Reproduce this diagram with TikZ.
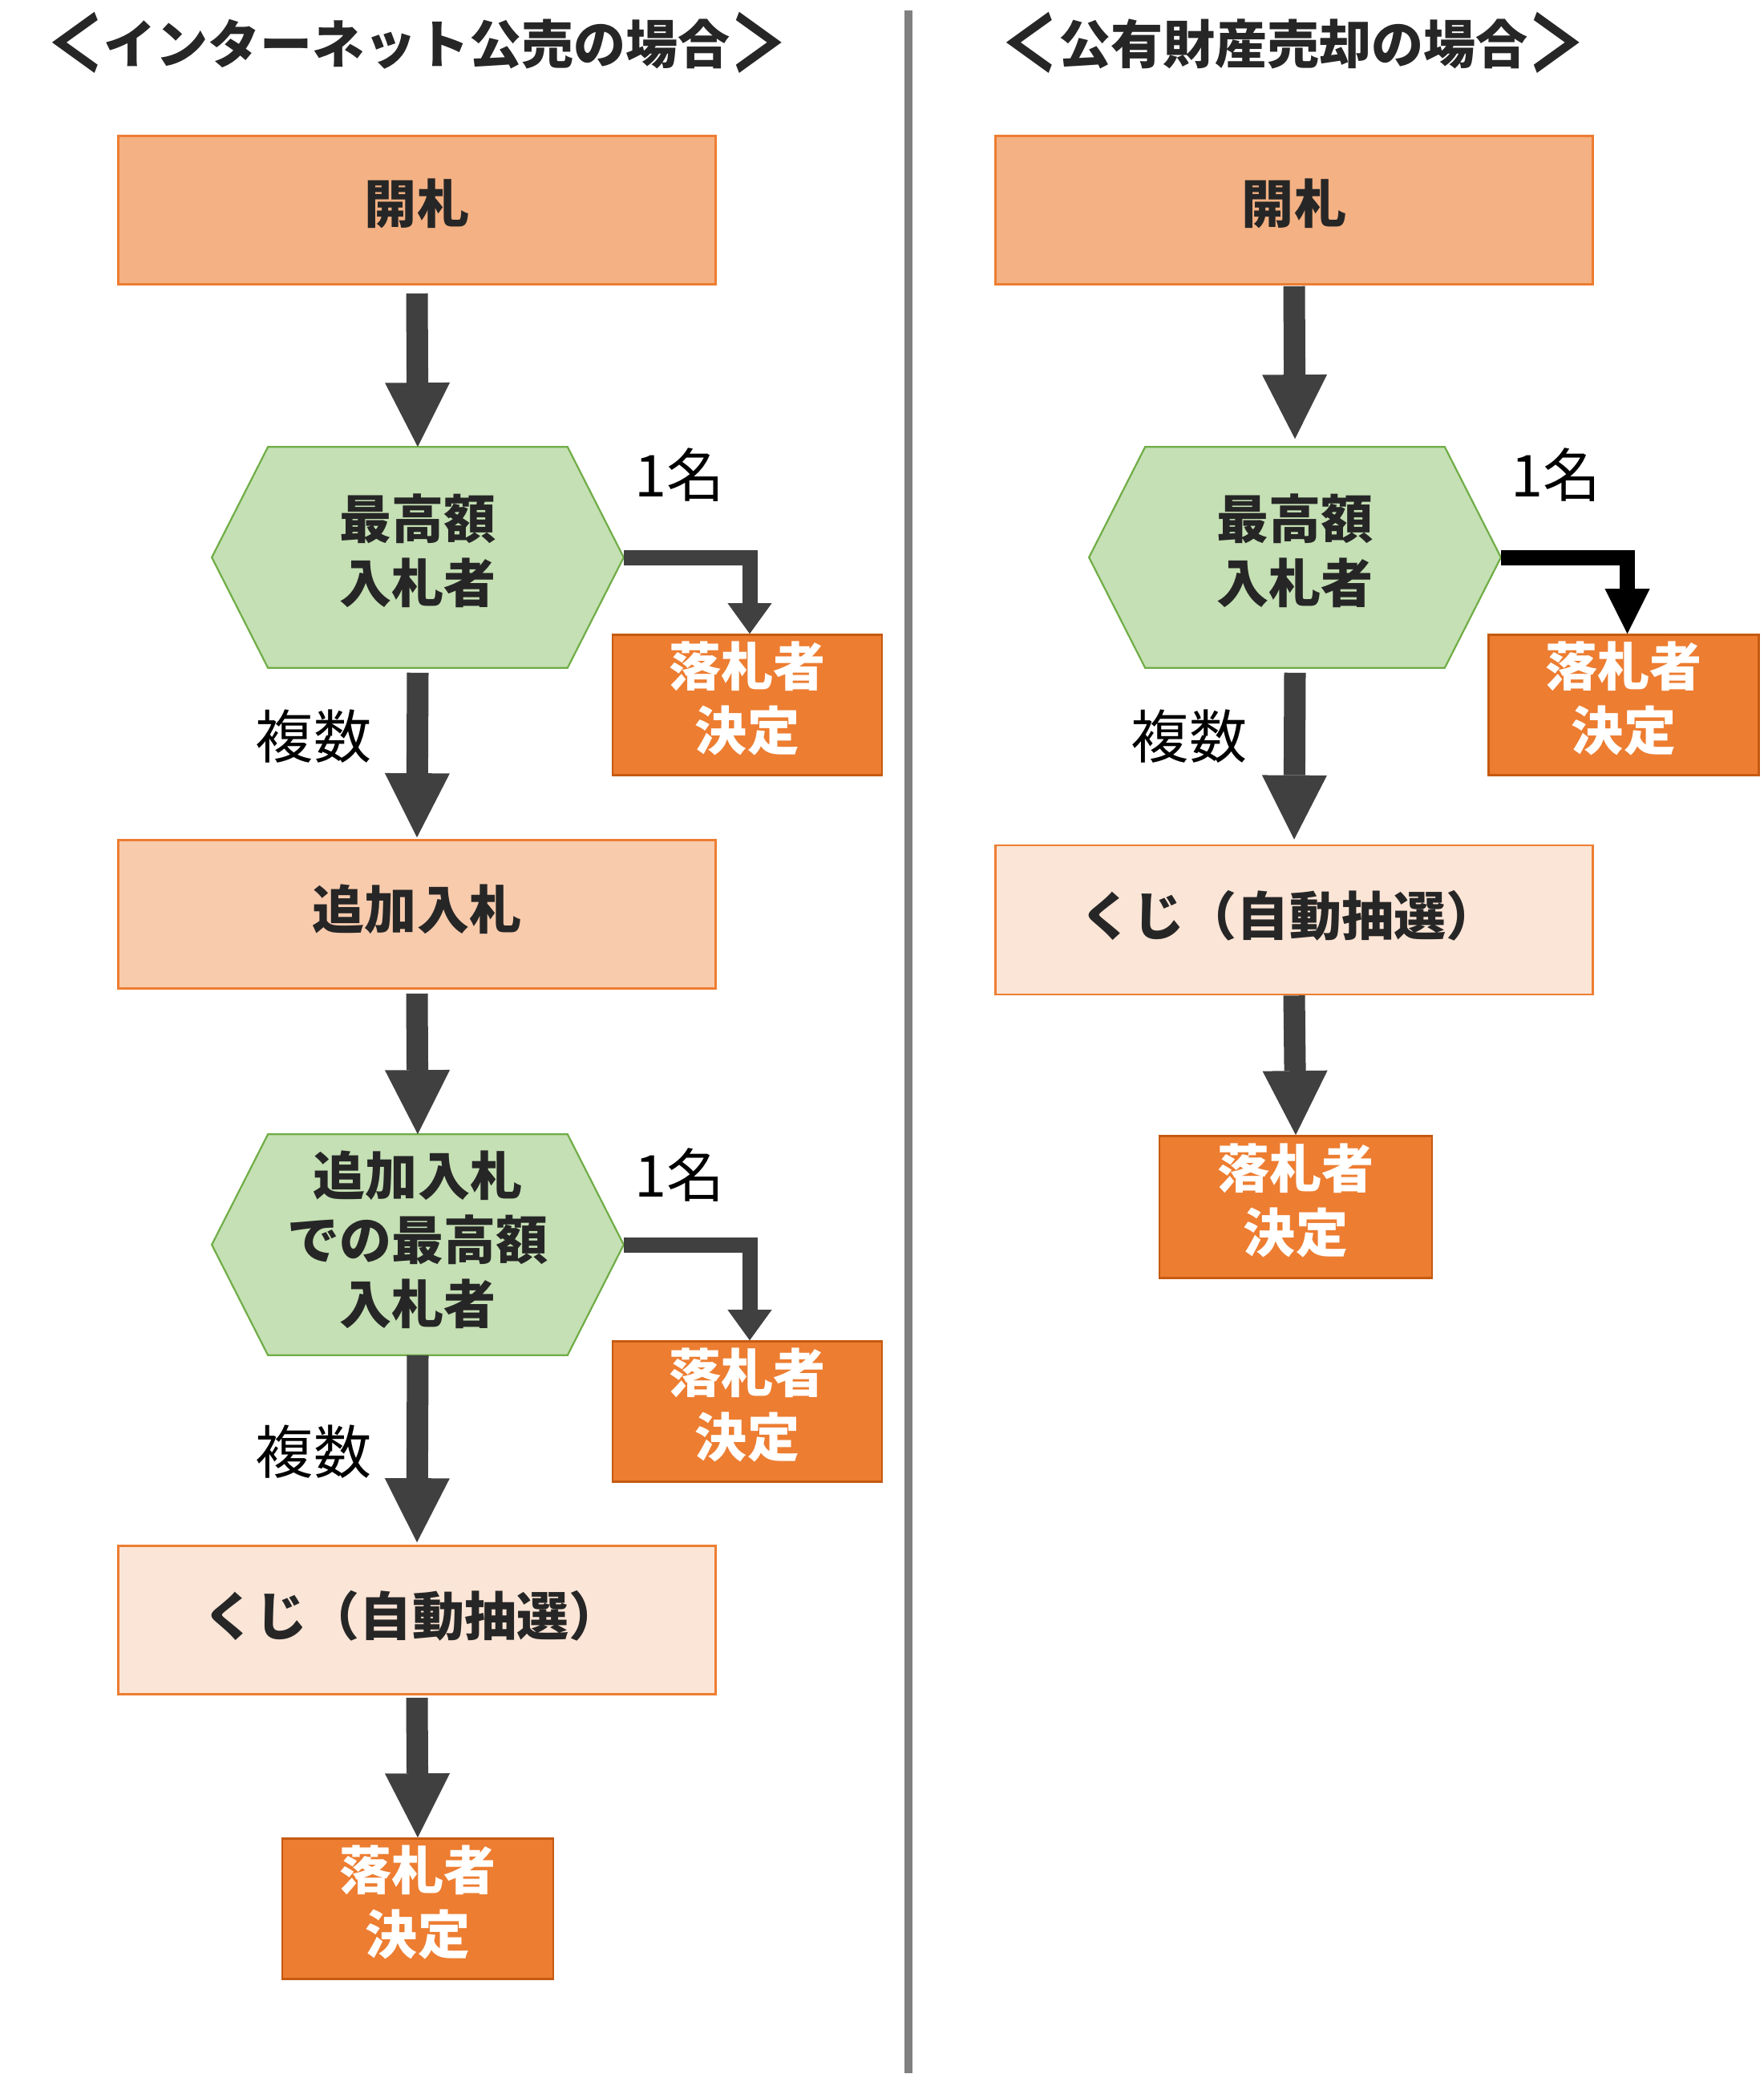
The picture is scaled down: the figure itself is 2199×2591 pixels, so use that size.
\documentclass[tikz,border=0pt]{standalone}
\usepackage{fontspec}
\usepackage{graphicx}
\newfontfamily\jp{Noto Sans CJK JP}
\usetikzlibrary{arrows.meta,backgrounds}
\definecolor{boxA}{HTML}{F4B183}
\definecolor{boxB}{HTML}{F8CBAD}
\definecolor{boxC}{HTML}{FBE5D6}
\definecolor{orl}{HTML}{ED7D31}
\definecolor{orw}{HTML}{ED7D31}
\definecolor{orwl}{HTML}{C55A11}
\definecolor{hexf}{HTML}{C5E0B4}
\definecolor{hexl}{HTML}{70AD47}
\definecolor{arrc}{HTML}{404040}
\definecolor{dk}{HTML}{262626}
\definecolor{divc}{HTML}{808080}
\newcommand\lbr{\raisebox{-0.17em}{\scalebox{1.1}[1.5]{＜}}}
\newcommand\rbr{\raisebox{-0.17em}{\scalebox{1.1}[1.5]{＞}}}
\begin{document}
\begin{tikzpicture}[x=0.01cm,y=-0.01cm,
  txt/.style={font=\jp\bfseries\fontsize{18.5}{22.8}\selectfont, text=dk, align=center, inner sep=0pt},
  wtxt/.style={txt, text=white},
  bigbox/.style={draw=orl, line width=0.025cm, minimum width=7.45cm, minimum height=1.85cm, inner sep=0pt},
  winbox/.style={fill=orw, draw=orwl, line width=0.025cm, minimum width=3.36cm, minimum height=1.75cm, inner sep=0pt},
  hexnode/.style={minimum width=5.12cm, minimum height=2.74cm, inner sep=0pt},
  hexdraw/.style={fill=hexf, draw=hexl, line width=0.022cm},
  lbl/.style={font=\jp\fontsize{20.5}{24}\selectfont, text=black, inner sep=0pt},
  ttl/.style={font=\jp\bfseries\fontsize{18.5}{22}\selectfont, text=dk, inner sep=0pt},
  bigarrow/.style={draw=arrc, line width=0.27cm, -{Triangle[width=0.81cm,length=0.80cm,line width=0pt]}},
  elbow/.style={draw=arrc, line width=0.19cm, line join=miter, -{Triangle[width=0.55cm,length=0.38cm,line width=0pt]}},
  elbowk/.style={draw=black, line width=0.19cm, line join=miter, -{Triangle[width=0.56cm,length=0.56cm,line width=0pt]}}
]
\useasboundingbox (0,0) rectangle (2199,2591);

% divider
\coordinate (dtop) at (1133,13);
\coordinate (dbot) at (1133,2585);
\draw[divc, line width=0.1cm] (dtop) -- (dbot);

% titles
\node[ttl] (titleL) at (520,53) {\lbr インターネット公売の場合\rbr};
\node[ttl] (titleR) at (1613,53) {\lbr 公有財産売却の場合\rbr};

% left column
\node[bigbox, fill=boxA] (openL) at (520,262) {};
\node[hexnode] (hexL1) at (521,695) {};
\node[winbox] (winL1) at (932,879) {};
\node[bigbox, fill=boxB] (addL) at (520,1140) {};
\node[hexnode] (hexL2) at (521,1552) {};
\node[winbox] (winL2) at (932,1760) {};
\node[bigbox, fill=boxC] (kujiL) at (520,2020) {};
\node[winbox, minimum width=3.38cm] (winL3) at (521,2380) {};

% right column
\node[bigbox, fill=boxA] (openR) at (1614,262) {};
\node[hexnode] (hexR) at (1615,695) {};
\node[winbox, minimum width=3.37cm] (winR1) at (2025,879) {};
\node[bigbox, fill=boxC, minimum height=1.86cm] (kujiR) at (1614,1147) {};
\node[winbox, minimum width=3.40cm, minimum height=1.77cm] (winR2) at (1616,1505) {};

% hexagons on background
\begin{scope}[on background layer]
\fill[white] (0,0) rectangle (2199,2591);
\foreach \h in {hexL1,hexL2,hexR}{
  \draw[hexdraw] (\h.west) -- ([xshift=0.70cm]\h.north west) -- ([xshift=-0.70cm]\h.north east)
    -- (\h.east) -- ([xshift=-0.70cm]\h.south east) -- ([xshift=0.70cm]\h.south west) -- cycle;
}
\end{scope}

% texts
\node[txt] (openLt) at ([yshift=0.08cm]openL.center) {開札};
\node[txt] (hexL1t) at ([yshift=0.08cm]hexL1.center) {最高額\\入札者};
\node[wtxt] (winL1t) at ([yshift=0.08cm]winL1.center) {落札者\\決定};
\node[txt] (addLt) at ([yshift=0.06cm]addL.center) {追加入札};
\node[txt] (hexL2t) at ([yshift=0.06cm]hexL2.center) {追加入札\\での最高額\\入札者};
\node[wtxt] (winL2t) at ([yshift=0.08cm]winL2.center) {落札者\\決定};
\node[txt] (kujiLt) at ([xshift=-0.06cm,yshift=0.05cm]kujiL.center) {くじ（自動抽選）};
\node[wtxt] (winL3t) at ([yshift=0.08cm]winL3.center) {落札者\\決定};
\node[txt] (openRt) at ([yshift=0.08cm]openR.center) {開札};
\node[txt] (hexRt) at ([yshift=0.08cm]hexR.center) {最高額\\入札者};
\node[wtxt] (winR1t) at ([yshift=0.08cm]winR1.center) {落札者\\決定};
\node[txt] (kujiRt) at ([xshift=-0.06cm,yshift=0.05cm]kujiR.center) {くじ（自動抽選）};
\node[wtxt] (winR2t) at ([yshift=0.08cm]winR2.center) {落札者\\決定};

% labels
\node[lbl] (oneL1) at (848,592) {1名};
\node[lbl] (manyL1) at (391,918) {複数};
\node[lbl] (oneL2) at (848,1465) {1名};
\node[lbl] (manyL2) at (391,1810) {複数};
\node[lbl] (oneR) at (1941,592) {1名};
\node[lbl] (manyR) at (1483,918) {複数};

% arrows left
\draw[bigarrow] ([yshift=-0.10cm]openL.south) -- (hexL1.north);
\draw[bigarrow] ([yshift=-0.06cm]hexL1.south) -- ([yshift=0.02cm]addL.north);
\draw[bigarrow] ([yshift=-0.05cm]addL.south) -- (hexL2.north);
\draw[bigarrow] (hexL2.south) -- ([yshift=0.03cm]kujiL.north);
\draw[bigarrow] ([yshift=-0.03cm]kujiL.south) -- (winL3.north);
\draw[elbow] (hexL1.east) -| ([xshift=0.03cm]winL1.north);
\draw[elbow] (hexL2.east) -| ([xshift=0.03cm]winL2.north);

% arrows right
\draw[bigarrow] ([yshift=-0.01cm]openR.south) -- ([yshift=0.10cm]hexR.north);
\draw[bigarrow] ([yshift=-0.06cm]hexR.south) -- ([yshift=0.06cm]kujiR.north);
\draw[bigarrow] (kujiR.south) -- (winR2.north);
\draw[elbowk] (hexR.east) -| ([xshift=0.045cm]winR1.north);
\end{tikzpicture}
\end{document}
